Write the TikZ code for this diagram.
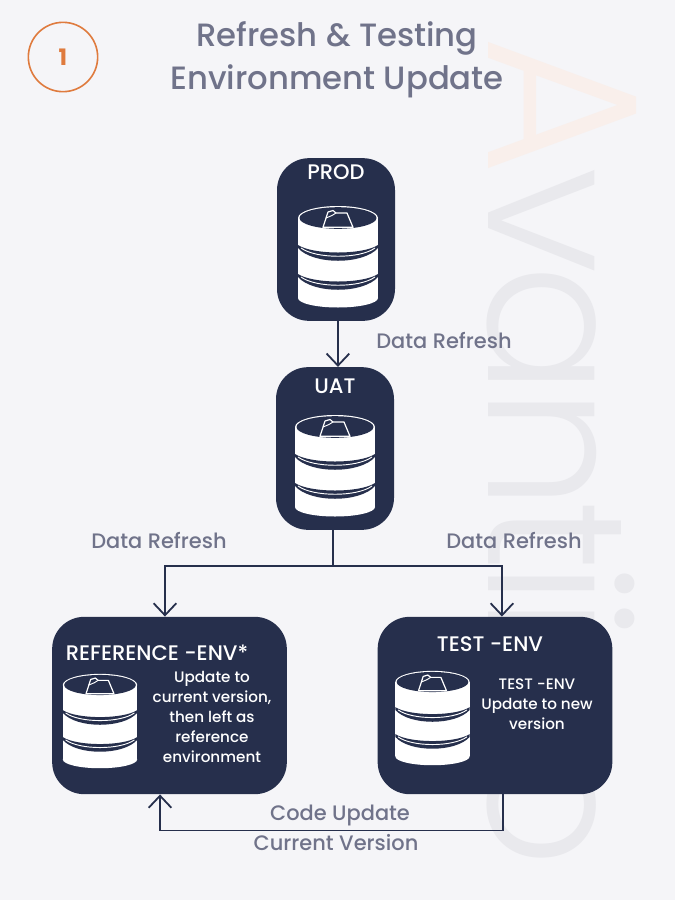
\documentclass[tikz,border=0pt]{standalone}
\usepackage{fontspec}
\setmainfont{Poppins Medium}[BoldFont={Poppins Bold}]
\newfontfamily\markfont{Poppins Light}[LetterSpace=-4.7]
\usetikzlibrary{arrows.meta, calc}

\definecolor{pagebg}{HTML}{F5F5F8}
\definecolor{boxnavy}{HTML}{262F4C}
\definecolor{labelgray}{HTML}{70738A}
\definecolor{badgeorange}{HTML}{DF7B3E}
\definecolor{markgray}{HTML}{E9E9ED}
\definecolor{markpeach}{HTML}{F9EFEB}

\tikzset{
    envbox/.style={fill=boxnavy, rounded corners=24pt, inner sep=0pt},
    smallbox/.style={envbox, minimum width=88.5pt, minimum height=122pt},
    widebox/.style={envbox, minimum width=176pt, minimum height=133pt},
    boxtitle/.style={text=white, inner sep=0pt, font=\fontsize{15.8}{18}\selectfont},
    boxtext/.style={text=white, inner sep=0pt, align=center, font=\fontsize{11.4}{15}\selectfont},
    steplabel/.style={text=labelgray, inner sep=0pt, font=\fontsize{15.7}{20}\selectfont},
    headline/.style={text=labelgray, inner sep=0pt, font=\fontsize{24.2}{32}\selectfont},
    link/.style={draw=boxnavy, line width=1.35pt},
    arrowlink/.style={link, -{Straight Barb[length=9pt,width=17pt]}},
    dbicon/.pic={
        % Body of the stack
        \fill[white] (-40,0) rectangle (40,80);
        \fill[white] (0,80) ellipse[x radius=40, y radius=9.5];
        % Top disc with the folder
        \fill[white] (0,0) ellipse[x radius=40, y radius=12];
        \fill[boxnavy] (0,0) ellipse[x radius=38.5, y radius=10.8];
        \draw[white, line width=.9pt, line join=round] (-15,9.3) -- (-10,-6) -- (-5,-7.5) -- (-2,-5)
            -- (9,-5) -- (15,9.3) -- cycle;
        \draw[white, line width=.7pt, line join=round] (-12,0) -- (-6,-2.5) -- (-2,-5);
        % Gaps between the discs
        \foreach \gapy in {27,56} {
            \fill[boxnavy] (-40,\gapy) .. controls (-25,\gapy+10) and (25,\gapy+10) .. (40,\gapy)
                -- (40,\gapy+3) .. controls (25,\gapy+20) and (-25,\gapy+20) .. (-40,\gapy+3) -- cycle;
            \draw[white, line width=.7pt] (-37,\gapy+3) .. controls (-22,\gapy+14) and (22,\gapy+14) .. (37,\gapy+3);
        }
    }
}

\begin{document}
\begin{tikzpicture}[x=.75pt, y=-.75pt]
    % Page background and watermark
    \useasboundingbox (0,0) rectangle (675,900);
    \fill[pagebg] (0,0) rectangle (675,900);
    \node[rotate=-90, anchor=base west, inner sep=0pt, text=markgray, font=\markfont\fontsize{146}{146}\selectfont]
        (watermark) at (488,35) {\textcolor{markpeach}{\fontsize{161}{161}\selectfont A}\kern-6pt vantiico};

    % Badge and heading
    \node[circle, draw=badgeorange, line width=1.2pt, minimum size=52pt, inner sep=0pt, text=badgeorange,
        font=\bfseries\fontsize{17}{20}\selectfont] (badge) at (63,57) {1};
    \node[headline] (headone) at (337,38.5) {Refresh \& Testing};
    \node[headline] (headtwo) at (337,81.5) {Environment Update};

    % Environment boxes
    \node[smallbox] (prod) at (336,239.5) {};
    \node[smallbox] (uat) at (335,448.5) {};
    \node[widebox] (ref) at (169.5,705.5) {};
    \node[widebox] (test) at (495,705.5) {};

    % Titles of the boxes
    \node[boxtitle] (prodtitle) at (336,172) {PROD};
    \node[boxtitle] (uattitle) at (335,386) {UAT};
    \node[boxtitle] (reftitle) at (157,653) {REFERENCE -ENV*};
    \node[boxtitle] (testtitle) at (490,644) {TEST -ENV};

    % Database icons
    \pic at (338,218) {dbicon};
    \pic at (335,427) {dbicon};
    \pic[scale=.93] at (100,685) {dbicon};
    \pic[scale=.93] at (432.5,682) {dbicon};

    % Text in the lower boxes
    \node[boxtext] (refnote) at (212,717) {Update to\\current version,\\then left as\\reference\\environment};
    \node[boxtext] (testnote) at (537,704) {TEST -ENV\\Update to new\\version};

    % Connectors
    \coordinate (split) at (333,566);
    \draw[arrowlink] ([xshift=1.5pt]prod.south) -- ([xshift=2.2pt]uat.north);
    \draw[link] (split |- uat.south) -- (split);
    \draw[arrowlink] (split) -| ([xshift=-3.4pt]ref.north);
    \draw[arrowlink] (split) -| ([xshift=5.2pt]test.north);
    \draw[arrowlink] ([xshift=6pt]test.south) -- ++(0,36) -| ([xshift=-7.1pt]ref.south);

    % Connector labels
    \node[steplabel] (labelprod) at (444,341) {Data Refresh};
    \node[steplabel] (labelref) at (159,541) {Data Refresh};
    \node[steplabel] (labeltest) at (514,541) {Data Refresh};
    \node[steplabel] (labelcode) at (340,815) {Code Update};
    \node[steplabel] (labelcurrent) at (336,843) {Current Version};
\end{tikzpicture}
\end{document}
